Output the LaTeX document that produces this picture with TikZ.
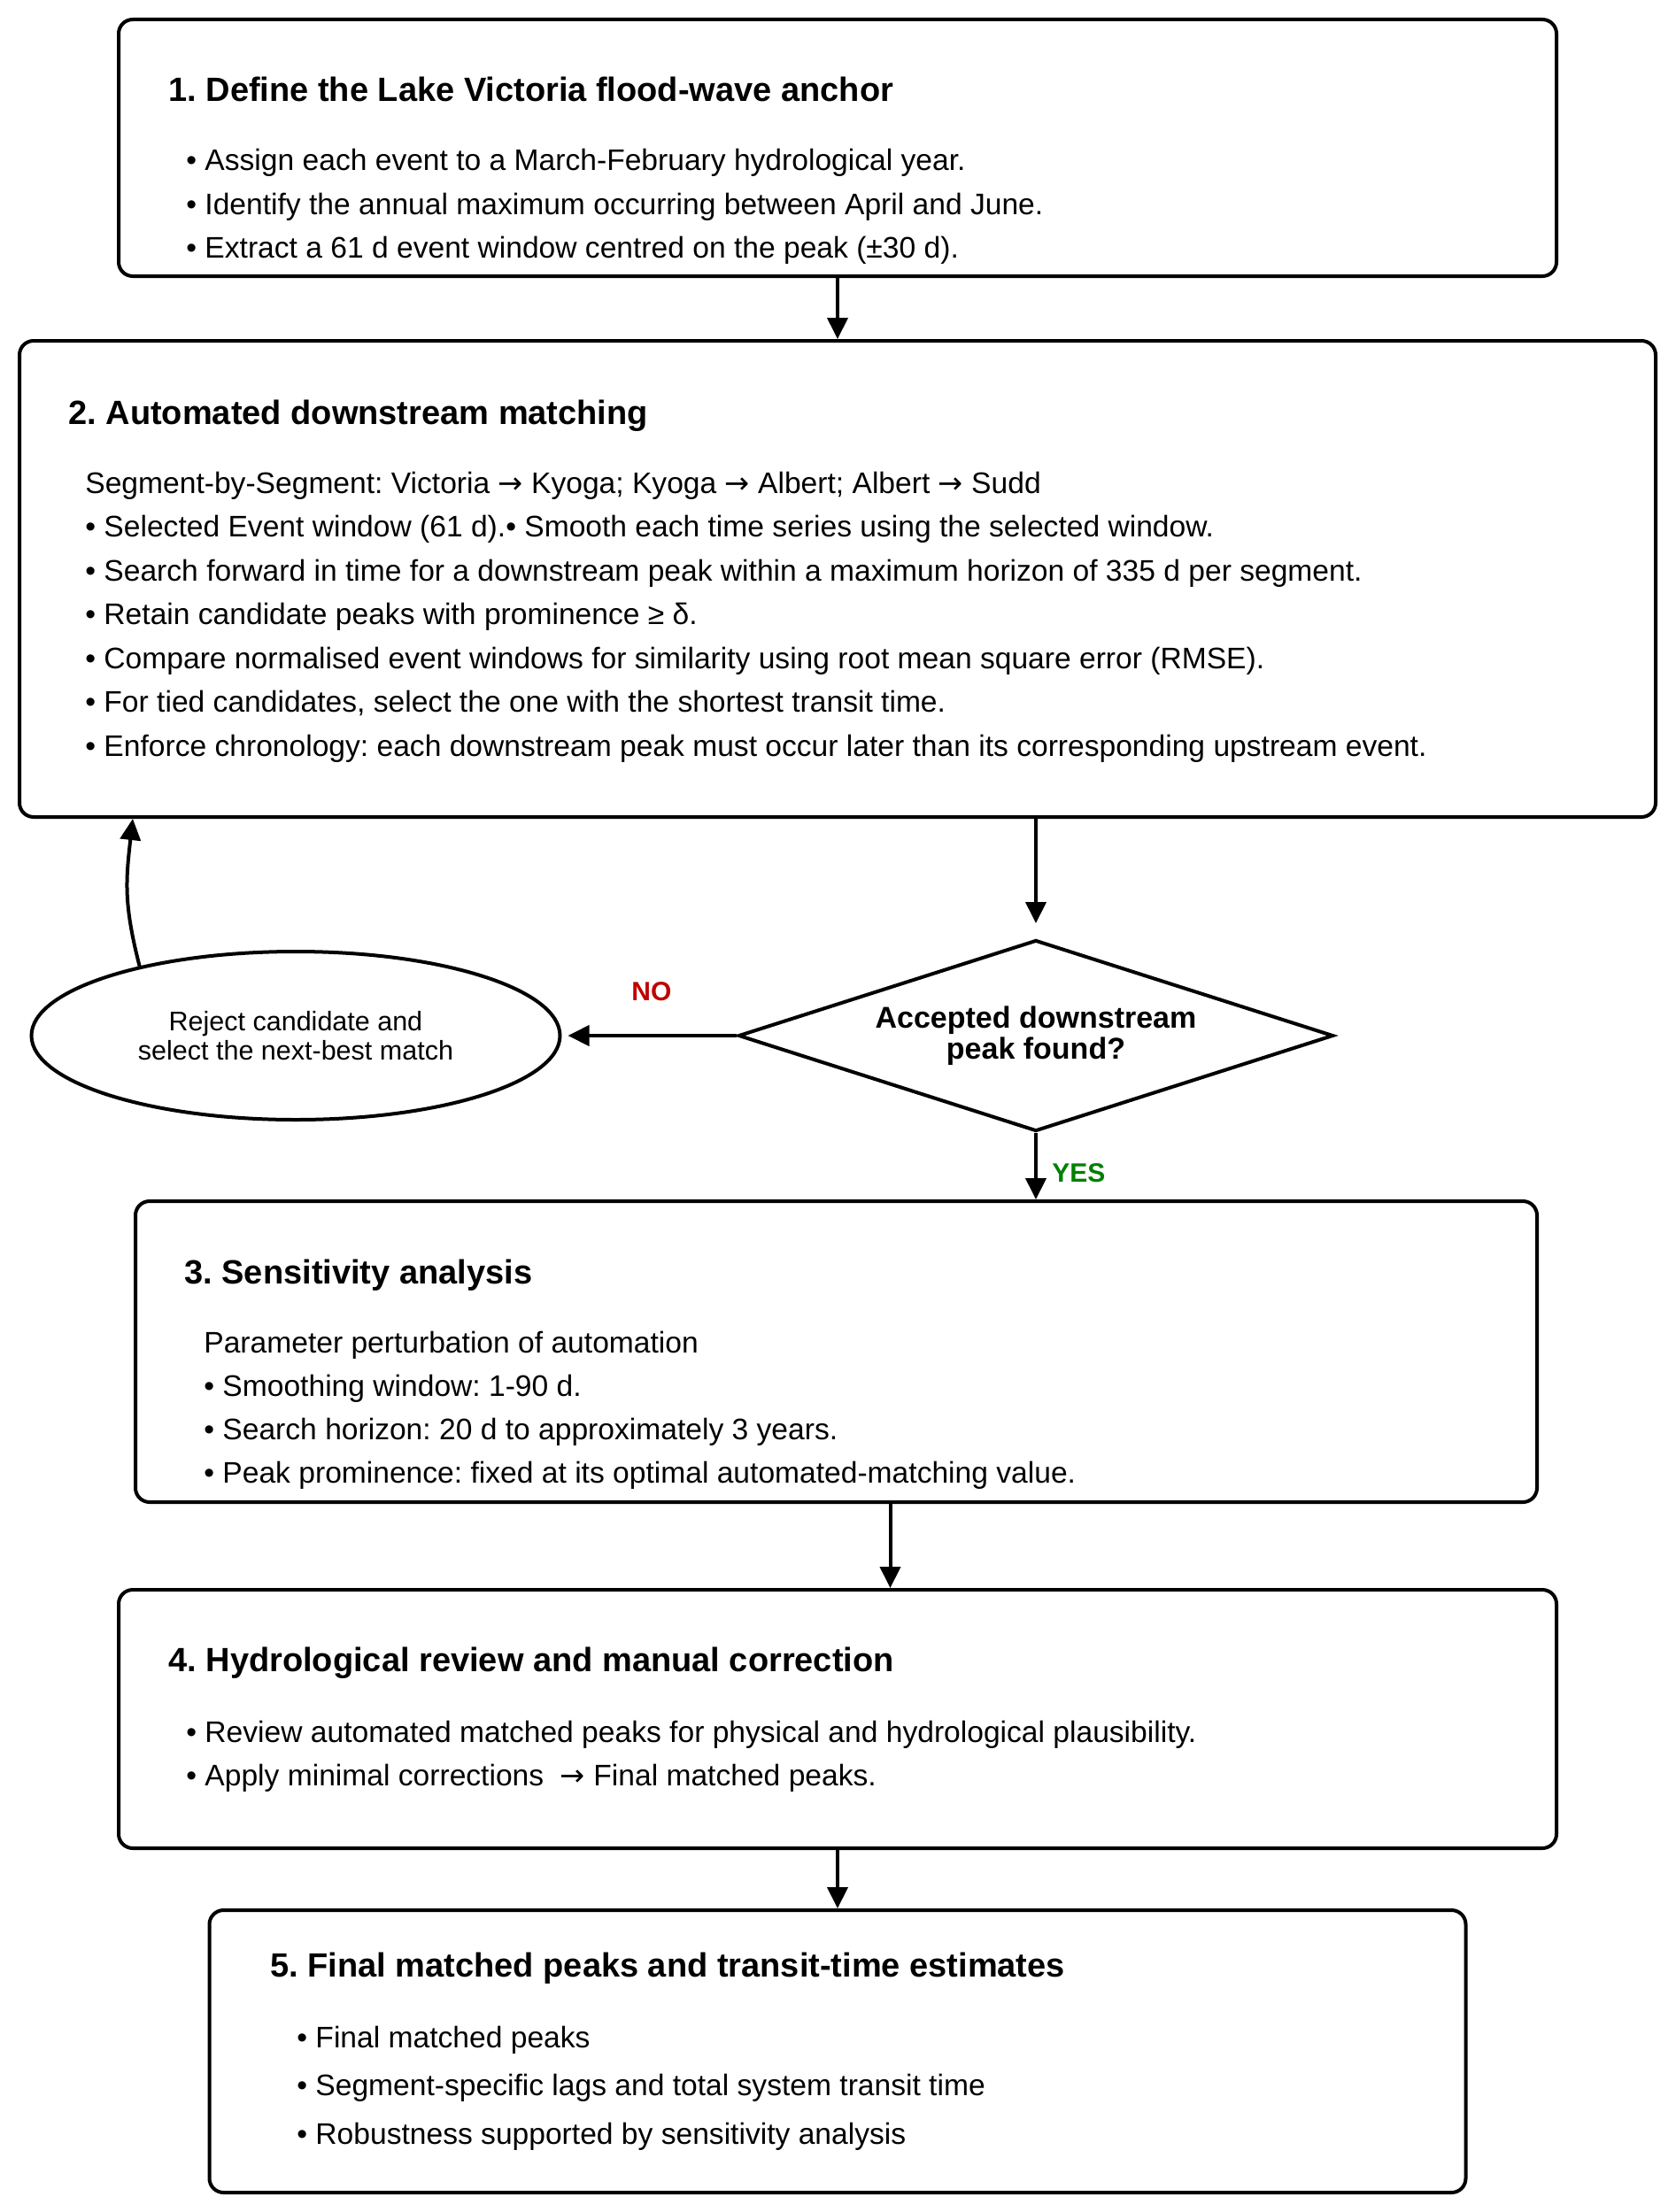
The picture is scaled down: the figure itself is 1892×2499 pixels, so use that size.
\documentclass[tikz,border=0pt]{standalone}
\usepackage{fontspec}
\setmainfont{Liberation Sans}
\newfontfamily\arrowfont{DejaVu Sans}
\newcommand{\ra}{{\arrowfont →}}
\frenchspacing
\usetikzlibrary{shapes.geometric,arrows.meta}
\definecolor{nored}{RGB}{192,0,0}
\definecolor{yesgreen}{RGB}{0,128,0}

\begin{document}
\begin{tikzpicture}[every node/.style={inner sep=0pt},x=0.5pt,y=-0.5pt,
  stepbox/.style={draw=black,line width=2pt,rounded corners=8pt},
  titletxt/.style={anchor=base west,font=\bfseries\fontsize{19pt}{22pt}\selectfont},
  bodytxt/.style={anchor=base west,font=\fontsize{16.8pt}{20pt}\selectfont},
  lbl/.style={anchor=base west,font=\bfseries\fontsize{15pt}{18pt}\selectfont},
  arr/.style={line width=2pt,-{Triangle[length=12pt,width=11.5pt]}}]
\useasboundingbox (0,0) rectangle (1892,2499);

\node[stepbox,minimum width=812pt,minimum height=145pt] (box1) at (946,167) {};
\node[titletxt] (t1) at (190,115) {1. Define the Lake Victoria flood-wave anchor};
\foreach \txt [count=\i] in {{Assign each event to a March-February hydrological year.},
  {Identify the annual maximum occurring between April and June.},
  {Extract a 61 d event window centred on the peak (±30 d).}}{%
\node[bodytxt] (b1-\i) at (210,{193+49.5*(\i-1)}) {• \txt};
}

\node[stepbox,minimum width=924pt,minimum height=269pt] (box2) at (946,654) {};
\node[titletxt] (t2) at (77,479) {2. Automated downstream matching};
\foreach \txt [count=\i] in {{Segment-by-Segment: Victoria \ra{} Kyoga; Kyoga \ra{} Albert; Albert \ra{} Sudd},
  {• Selected Event window (61 d).• Smooth each time series using the selected window.},
  {• Search forward in time for a downstream peak within a maximum horizon of 335 d per segment.},
  {• Retain candidate peaks with prominence ≥ δ.},
  {• Compare normalised event windows for similarity using root mean square error (RMSE).},
  {• For tied candidates, select the one with the shortest transit time.},
  {• Enforce chronology: each downstream peak must occur later than its corresponding upstream event.}}{%
\node[bodytxt] (b2-\i) at (96,{557+49.5*(\i-1)}) {\txt};
}

\node[draw,diamond,aspect=3.1,line width=2pt,minimum width=336pt,minimum height=108pt,
  align=center,font=\bfseries\fontsize{17pt}{17.5pt}\selectfont] (dec) at (1170,1170) {Accepted downstream\\peak found?};
\node[draw,ellipse,line width=2pt,minimum width=298.5pt,minimum height=95pt,
  align=center,font=\fontsize{15.25pt}{16.5pt}\selectfont] (rej) at (334,1170) {Reject candidate and\\select the next-best match};
\node[lbl,text=nored] (no) at (713,1130) {NO};
\node[lbl,text=yesgreen] (yes) at (1188,1335) {YES};

\node[stepbox,minimum width=791.5pt,minimum height=170pt] (box3) at (944.5,1527) {};
\node[titletxt] (t3) at (208,1450) {3. Sensitivity analysis};
\foreach \txt [count=\i] in {{Parameter perturbation of automation},
  {• Smoothing window: 1-90 d.},
  {• Search horizon: 20 d to approximately 3 years.},
  {• Peak prominence: fixed at its optimal automated-matching value.}}{%
\node[bodytxt] (b3-\i) at (230,{1528+49*(\i-1)}) {\txt};
}

\node[stepbox,minimum width=812pt,minimum height=146pt] (box4) at (946,1942) {};
\node[titletxt] (t4) at (190,1888) {4. Hydrological review and manual correction};
\foreach \txt [count=\i] in {{Review automated matched peaks for physical and hydrological plausibility.},
  {Apply minimal corrections~ \ra{} Final matched peaks.}}{%
\node[bodytxt] (b4-\i) at (210,{1968+49*(\i-1)}) {• \txt};
}

\node[stepbox,minimum width=709.5pt,minimum height=159.5pt] (box5) at (946,2317.5) {};
\node[titletxt] (t5) at (305,2233) {5. Final matched peaks and transit-time estimates};
\foreach \txt [count=\i] in {{Final matched peaks},
  {Segment-specific lags and total system transit time},
  {Robustness supported by sensitivity analysis}}{%
\node[bodytxt] (b5-\i) at (335,{2313+54.5*(\i-1)}) {• \txt};
}

\draw[arr] (box1.south) -- (box2.north);
\draw[arr,shorten >=8.5pt] (box2.south -| dec.north) -- (dec.north);
\draw[arr,shorten >=3.5pt] (dec.west) -- (rej.east);
\draw[arr] (rej.156) .. controls +(-18,-70) and +(-8,70) .. ([xshift=65pt]box2.south west);
\draw[arr] (dec.south) -- (dec.south |- box3.north);
\draw[arr] ([xshift=30.5pt]box3.south) -- ([xshift=30.5pt]box3.south |- box4.north);
\draw[arr] (box4.south) -- (box5.north);
\end{tikzpicture}
\end{document}
